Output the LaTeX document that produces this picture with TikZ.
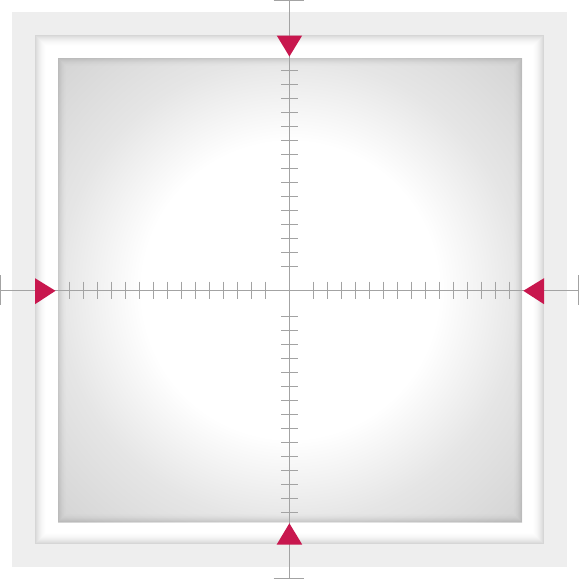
\documentclass[tikz,border=0pt]{standalone}
\definecolor{frameg}{HTML}{EEEEEE}
\definecolor{axisg}{HTML}{A3A3A3}
\definecolor{markred}{HTML}{C8174E}
\pgfdeclareradialshading{vign}{\pgfpoint{0bp}{0bp}}{color(0bp)=(white); color(16bp)=(white); color(25bp)=(black!10); color(35.4bp)=(black!17); color(50bp)=(black!17)}
\begin{document}
\begin{tikzpicture}[x=1pt,y=-1pt,
  axisline/.style={draw=axisg, line width=1.2pt},
  tri/.style={fill=markred}]
\useasboundingbox (0,0) rectangle (579,579);
% outer panel
\fill[frameg] (12,12) rectangle (567,567);
% white frame with inner shadow
\fill[white] (35,35) rectangle (544,544);
\foreach \i in {0,...,11}{
  \pgfmathsetmacro\op{0.16*(1-\i/12)^2}
  \draw[black, opacity=\op, line width=1pt] (35.5+\i,35.5+\i) rectangle (543.5-\i,543.5-\i);
}
% inner vignetted square
\shade[shading=vign] (58,58) rectangle (522,522);
\foreach \i in {0,...,8}{
  \pgfmathsetmacro\op{0.12*(1-\i/9)^2}
  \draw[black, opacity=\op, line width=1pt] (58.5+\i,58.5+\i) rectangle (521.5-\i,521.5-\i);
}
% crosshair
\coordinate (vtop) at (289.4,0);
\coordinate (vbot) at (289.4,579);
\coordinate (hl) at (0,290.3);
\coordinate (hr) at (579,290.3);
\draw[axisline] (vtop) -- (vbot);
\draw[axisline] (hl) -- (hr);
\draw[axisline] (273.5,0.8) -- (303.5,0.8);
\draw[axisline] (273.5,578.2) -- (303.5,578.2);
\draw[axisline] (0.8,275.3) -- (0.8,305.3);
\draw[axisline] (578.2,275.3) -- (578.2,305.3);
\foreach \k in {0,...,14}{
  \draw[axisline] ({69.3+14*\k},281.7) -- ++(0,17.3);
  \draw[axisline] ({313.3+14*\k},281.7) -- ++(0,17.3);
  \draw[axisline] (281,{70.3+14*\k}) -- ++(17,0);
  \draw[axisline] (281,{316.3+14*\k}) -- ++(17,0);
}
% red markers
\fill[tri] (276.7,35.5) -- (302.2,35.5) -- (289.4,56.5) -- cycle;
\fill[tri] (276.7,544.5) -- (302.2,544.5) -- (289.4,523.3) -- cycle;
\fill[tri] (35,278.2) -- (35,304.2) -- (55.5,290.8) -- cycle;
\fill[tri] (544,278.2) -- (544,304.2) -- (523.3,290.8) -- cycle;
\end{tikzpicture}
\end{document}
